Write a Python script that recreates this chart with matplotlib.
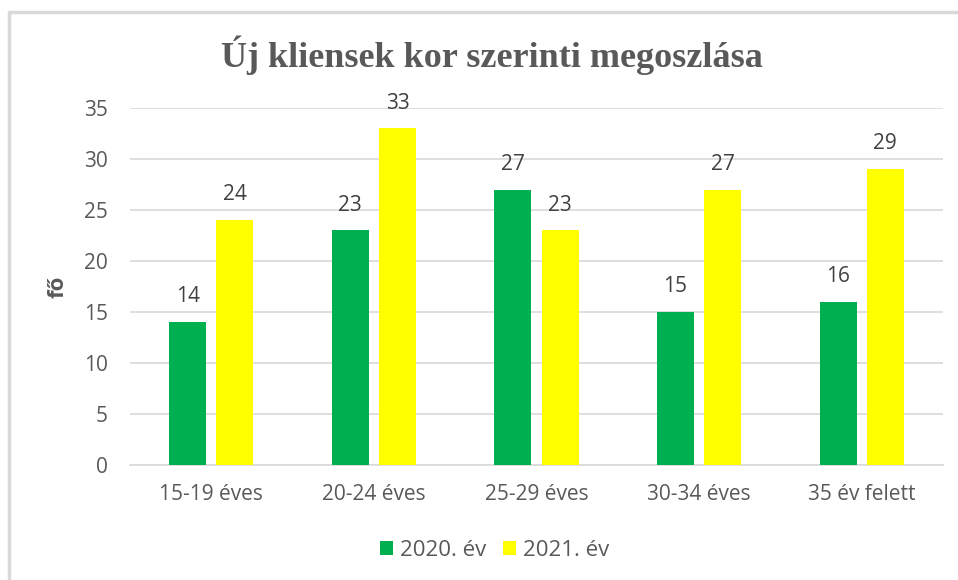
import numpy as np
import matplotlib.pyplot as plt
from matplotlib.patches import Rectangle

categories = ['15-19 éves', '20-24 éves', '25-29 éves', '30-34 éves', '35 év felett']
values_2020 = [14, 23, 27, 15, 16]
values_2021 = [24, 33, 23, 27, 29]
series_names = ['2020. év', '2021. év']

green = '#00B050'
yellow = '#FFFF00'
txt = '#595959'

plt.rcParams['font.family'] = ['Open Sans', 'DejaVu Sans']

fig = plt.figure(figsize=(9.58, 5.8), dpi=100)
ax = fig.add_axes([130 / 958, 115 / 580, 813 / 958, 357 / 580])

# outer frame of the chart area
fig.patches.append(Rectangle((9 / 958, -0.05), 1.2, (580 - 12) / 580 + 0.05,
                             transform=fig.transFigure, fill=False,
                             edgecolor='#D9D9D9', linewidth=2.5))

x = np.arange(len(categories))
w = 0.228
off = w / 2 + 0.031
b1 = ax.bar(x - off, values_2020, w, color=green, label=series_names[0], zorder=3)
b2 = ax.bar(x + off, values_2021, w, color=yellow, label=series_names[1], zorder=3)

for bars in (b1, b2):
    for r in bars:
        ax.text(r.get_x() + r.get_width() / 2, r.get_height() + 1.45,
                '%d' % r.get_height(), ha='center', va='bottom',
                fontsize=15, color='#404040')

ax.set_xlim(-0.5, len(categories) - 0.5)
ax.set_ylim(0, 35)
ax.set_yticks(range(0, 36, 5))
ax.set_xticks(x)
ax.set_xticklabels(categories)
ax.yaxis.grid(True, color='#D9D9D9', linewidth=1.2, zorder=0)
ax.set_axisbelow(True)
for s in ['top', 'right', 'left']:
    ax.spines[s].set_visible(False)
ax.spines['bottom'].set_color('#D9D9D9')
ax.spines['bottom'].set_linewidth(1.2)
ax.tick_params(axis='both', length=0, labelsize=15, colors=txt)
ax.tick_params(axis='y', pad=16)
ax.tick_params(axis='x', pad=14)

ax.set_ylabel('fő', fontsize=16, fontweight='bold', color=txt, labelpad=11)

fig.text(0.513, 0.905, 'Új kliensek kor szerinti megoszlása',
         family='Liberation Serif', fontsize=26, fontweight='bold',
         color=txt, ha='center', va='center')

fig.legend(loc='center', bbox_to_anchor=(0.516, 30 / 580),
           ncol=2, frameon=False, fontsize=16, labelcolor=txt,
           handlelength=0.6, handleheight=0.6, handletextpad=0.3,
           columnspacing=0.75)

fig.savefig('out.png', dpi=100, facecolor='white')
